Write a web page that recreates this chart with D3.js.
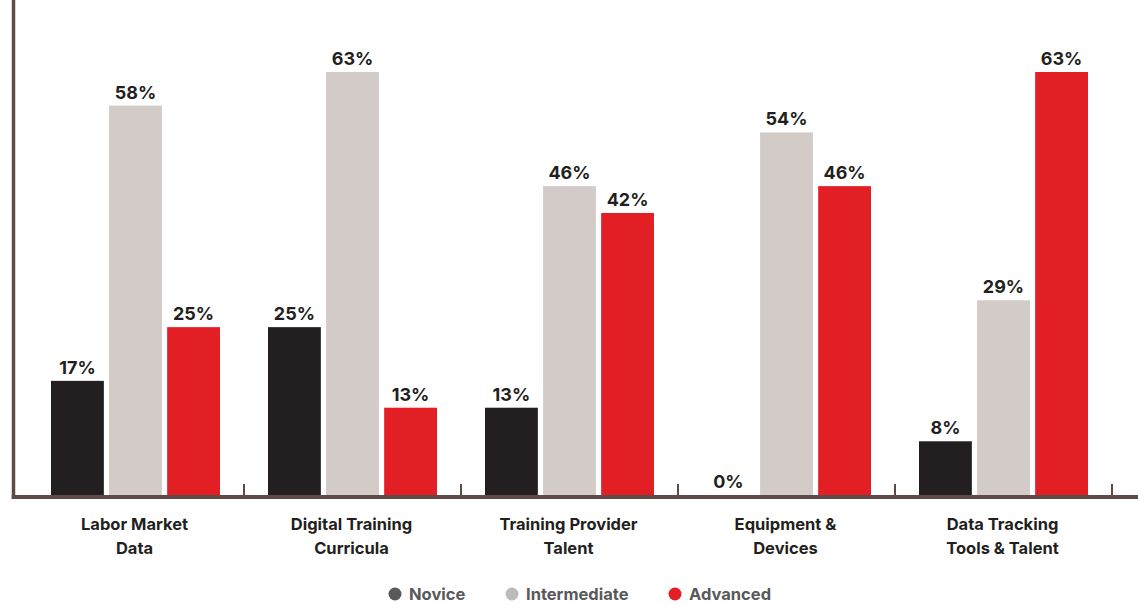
<!DOCTYPE html>
<html>
<head>
<meta charset="utf-8">
<script src="https://cdn.jsdelivr.net/npm/d3@7"></script>
<style>
  body { margin: 0; background: #fff; }
  text { font-family: Inter, "Liberation Sans", Arial, sans-serif; }
</style>
</head>
<body>
<div id="chart"></div>
<script>
// data
var categories = [["Labor Market", "Data"], ["Digital Training", "Curricula"], ["Training Provider", "Talent"], ["Equipment &", "Devices"], ["Data Tracking", "Tools & Talent"]];
var series = ["Novice", "Intermediate", "Advanced"];
var novice = [17, 25, 13, 0, 8];
var intermediate = [58, 63, 46, 54, 29];
var advanced = [25, 13, 42, 46, 63];

var barColors = ["#231f20", "#d3cbc8", "#e31f26"];
var legendColors = ["#58595b", "#bcbcbc", "#e31f26"];

var W = 1138, H = 604;
var baseY = 495;

var svg = d3.select("#chart").append("svg")
    .attr("width", W)
    .attr("height", H);

var keys = categories.map(function(c) { return c.join(" "); });
var rows = keys.map(function(k, i) {
    return {key: k, lines: categories[i], values: [novice[i], intermediate[i], advanced[i]]};
});

var x = d3.scaleBand()
    .domain(keys)
    .range([27, 1112])
    .paddingInner(0)
    .paddingOuter(0);

var xs = d3.scaleBand()
    .domain(series)
    .range([24, 193])
    .paddingInner(0.09);

var y = d3.scaleLinear()
    .domain([0, 70])
    .range([baseY, 25]);

// bars
var groups = svg.append("g").selectAll("g")
    .data(rows)
    .enter().append("g")
    .attr("transform", function(d) { return "translate(" + x(d.key) + ",0)"; });

groups.selectAll("rect")
    .data(function(d) { return d.values.map(function(v, j) { return {s: series[j], v: v, j: j}; }); })
    .enter().append("rect")
    .attr("x", function(d) { return xs(d.s); })
    .attr("width", xs.bandwidth())
    .attr("y", function(d) { return y(d.v); })
    .attr("height", function(d) { return baseY - y(d.v); })
    .attr("fill", function(d) { return barColors[d.j]; });

groups.selectAll("text.val")
    .data(function(d) { return d.values.map(function(v, j) { return {s: series[j], v: v, j: j}; }); })
    .enter().append("text")
    .attr("class", "val")
    .attr("x", function(d) { return xs(d.s) + xs.bandwidth() / 2; })
    .attr("y", function(d) { return y(d.v) - 7; })
    .attr("text-anchor", "middle")
    .style("font-size", "18px")
    .style("font-weight", 700)
    .attr("fill", "#231f20")
    .text(function(d) { return d.v + "%"; });

// axes
var axisColor = "#5e4b46";
svg.append("line")
    .attr("x1", 13.5).attr("x2", 13.5)
    .attr("y1", 0).attr("y2", baseY + 4)
    .attr("stroke", axisColor).attr("stroke-width", 3.5);

var xAxis = svg.append("g")
    .attr("transform", "translate(0," + (baseY + 2) + ")")
    .call(d3.axisBottom(x).tickSize(0).tickFormat(""));
xAxis.select(".domain").remove();
xAxis.append("line")
    .attr("x1", 11.75).attr("x2", W)
    .attr("y1", 0).attr("y2", 0)
    .attr("stroke", axisColor).attr("stroke-width", 4);

// separator ticks between groups
svg.append("g").selectAll("line")
    .data(keys)
    .enter().append("line")
    .attr("x1", function(d) { return x(d) + x.bandwidth(); })
    .attr("x2", function(d) { return x(d) + x.bandwidth(); })
    .attr("y1", baseY - 11)
    .attr("y2", baseY)
    .attr("stroke", axisColor)
    .attr("stroke-width", 2);

// category labels
var labels = svg.append("g").selectAll("text")
    .data(rows)
    .enter().append("text")
    .attr("text-anchor", "middle")
    .attr("x", function(d) { return x(d.key) + x.bandwidth() / 2 - 1; })
    .attr("y", 530)
    .style("font-size", "16.5px")
    .style("font-weight", 700)
    .attr("fill", "#231f20");
labels.selectAll("tspan")
    .data(function(d) { return d.lines; })
    .enter().append("tspan")
    .attr("x", function() { var p = d3.select(this.parentNode).datum(); return x(p.key) + x.bandwidth() / 2 - 1; })
    .attr("dy", function(d, i) { return i === 0 ? 0 : 24; })
    .text(function(d) { return d; });

// legend
var legendX = [395, 512, 675];
var legend = svg.append("g").selectAll("g")
    .data(series)
    .enter().append("g")
    .attr("transform", function(d, i) { return "translate(" + legendX[i] + ",594)"; });
legend.append("circle")
    .attr("r", 6.5)
    .attr("fill", function(d, i) { return legendColors[i]; });
legend.append("text")
    .attr("x", 14)
    .attr("dy", "0.36em")
    .style("font-size", "16.5px")
    .style("font-weight", 700)
    .attr("fill", "#58595b")
    .text(function(d) { return d; });
</script>
</body>
</html>
